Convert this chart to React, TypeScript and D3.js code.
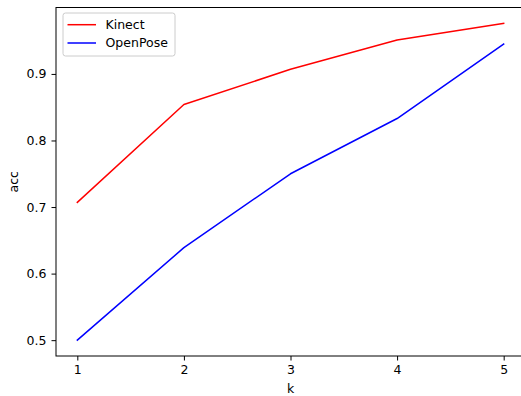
import React, { useEffect, useRef } from "react";
import * as d3 from "d3";

const ks = [1, 2, 3, 4, 5];
const kinectAcc = [0.707, 0.854, 0.907, 0.951, 0.976];
const openPoseAcc = [0.5, 0.639, 0.75, 0.833, 0.945];
const yTicks = [0.5, 0.6, 0.7, 0.8, 0.9];

const seriesList = [
  { name: "Kinect", values: kinectAcc, color: "#ff0000" },
  { name: "OpenPose", values: openPoseAcc, color: "#0000ff" },
];

export default function App() {
  const ref = useRef<SVGSVGElement>(null);

  useEffect(() => {
    if (!ref.current) return;
    const width = 521;
    const height = 396;
    const margin = { top: 7.5, right: -4, bottom: 40, left: 56 };

    const svg = d3.select(ref.current);
    svg.selectAll("*").remove();

    // matplotlib-like 5% margins on each side
    const allY = [...kinectAcc, ...openPoseAcc];
    const yMin = d3.min(allY)!;
    const yMax = d3.max(allY)!;
    const yPad = (yMax - yMin) * 0.05;
    const xPad = (d3.max(ks)! - d3.min(ks)!) * 0.05;

    const x = d3
      .scaleLinear()
      .domain([d3.min(ks)! - xPad, d3.max(ks)! + xPad])
      .range([margin.left, width - margin.right]);
    const y = d3
      .scaleLinear()
      .domain([yMin - yPad, yMax + yPad])
      .range([height - margin.bottom, margin.top]);

    const font = "DejaVu Sans, sans-serif";
    const fontSize = "12.5px";

    const lineGen = d3
      .line<number>()
      .x((_, i) => x(ks[i]))
      .y((d) => y(d));

    seriesList.forEach((s) => {
      svg
        .append("path")
        .datum(s.values)
        .attr("d", lineGen)
        .attr("fill", "none")
        .attr("stroke", s.color)
        .attr("stroke-width", 1.5)
        .attr("stroke-linejoin", "round")
        .attr("stroke-linecap", "square");
    });

    // frame
    svg
      .append("rect")
      .attr("x", x.range()[0])
      .attr("y", y.range()[1])
      .attr("width", x.range()[1] - x.range()[0])
      .attr("height", y.range()[0] - y.range()[1])
      .attr("fill", "none")
      .attr("stroke", "#000")
      .attr("stroke-width", 1);

    // x axis
    const xAxis = svg
      .append("g")
      .attr("transform", `translate(0,${y.range()[0]})`)
      .call(
        d3
          .axisBottom(x)
          .tickValues(ks)
          .tickFormat(d3.format("d"))
          .tickSize(4.5)
          .tickPadding(5)
      );
    xAxis.select(".domain").remove();
    xAxis.selectAll("line").attr("stroke", "#000");
    xAxis
      .selectAll("text")
      .attr("fill", "#000")
      .style("font-family", font)
      .style("font-size", fontSize);

    // y axis
    const yAxis = svg
      .append("g")
      .attr("transform", `translate(${x.range()[0]},0)`)
      .call(
        d3
          .axisLeft(y)
          .tickValues(yTicks)
          .tickFormat(d3.format(".1f"))
          .tickSize(4.5)
          .tickPadding(5)
      );
    yAxis.select(".domain").remove();
    yAxis.selectAll("line").attr("stroke", "#000");
    yAxis
      .selectAll("text")
      .attr("fill", "#000")
      .style("font-family", font)
      .style("font-size", fontSize);

    // axis labels
    svg
      .append("text")
      .attr("x", (x.range()[0] + x.range()[1]) / 2)
      .attr("y", 393)
      .attr("text-anchor", "middle")
      .attr("fill", "#000")
      .style("font-family", font)
      .style("font-size", fontSize)
      .text("k");

    svg
      .append("text")
      .attr("transform", `translate(18,${(y.range()[0] + y.range()[1]) / 2}) rotate(-90)`)
      .attr("text-anchor", "middle")
      .attr("fill", "#000")
      .style("font-family", font)
      .style("font-size", fontSize)
      .text("acc");

    // legend
    const legend = svg.append("g").attr("transform", "translate(63,13)");
    legend
      .append("rect")
      .attr("width", 112)
      .attr("height", 43)
      .attr("rx", 2.5)
      .attr("fill", "#fff")
      .attr("fill-opacity", 0.8)
      .attr("stroke", "#cccccc")
      .attr("stroke-width", 1);
    seriesList.forEach((s, i) => {
      const ly = 11.7 + i * 18.3;
      legend
        .append("line")
        .attr("x1", 4.5)
        .attr("x2", 33)
        .attr("y1", ly)
        .attr("y2", ly)
        .attr("stroke", s.color)
        .attr("stroke-width", 1.5);
      legend
        .append("text")
        .attr("x", 42.5)
        .attr("y", ly)
        .attr("dy", "0.35em")
        .attr("fill", "#000")
        .style("font-family", font)
        .style("font-size", fontSize)
        .text(s.name);
    });
  }, []);

  return (
    <svg
      ref={ref}
      width={521}
      height={396}
      style={{ position: "absolute", left: 0, top: 0, background: "#fff" }}
    />
  );
}
